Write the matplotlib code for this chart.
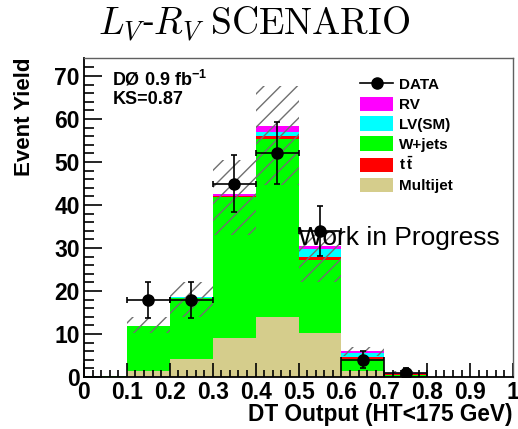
import numpy as np
import matplotlib
matplotlib.use("Agg")
import matplotlib.pyplot as plt
from matplotlib.patches import Patch
from matplotlib.lines import Line2D

plt.rcParams['font.family'] = ['Liberation Sans', 'DejaVu Sans']
plt.rcParams['mathtext.fontset'] = 'custom'
plt.rcParams['mathtext.rm'] = 'Liberation Sans'
plt.rcParams['mathtext.bf'] = 'Liberation Sans:bold'
plt.rcParams['mathtext.it'] = 'Liberation Sans:italic'
plt.rcParams['hatch.linewidth'] = 1.0

# DT output bins
bin_edges = [0.0, 0.1, 0.2, 0.3, 0.4, 0.5, 0.6, 0.7, 0.8, 0.9, 1.0]

# stacked predictions, bottom to top
multijet = [0.0, 1.4, 4.2, 9.0, 13.9, 10.2, 1.5, 0.0, 0.0, 0.0]
wjets    = [0.3, 10.5, 14.1, 32.8, 41.4, 17.0, 2.8, 0.4, 0.0, 0.0]
ttbar    = [0.0, 0.0, 0.0, 0.2, 0.7, 0.8, 0.3, 0.2, 0.0, 0.0]
lv_sm    = [0.0, 0.0, 0.2, 0.1, 1.0, 1.7, 0.9, 0.2, 0.0, 0.0]
rv       = [0.0, 0.0, 0.0, 0.4, 1.4, 0.8, 0.6, 0.2, 0.0, 0.0]

# uncertainty band on the prediction
band_low  = [0.0, 10.2, 14.0, 33.0, 44.7, 22.2, 4.8, 0.8, 0.0, 0.0]
band_high = [0.0, 14.0, 22.2, 50.5, 67.7, 34.2, 7.0, 1.4, 0.0, 0.0]

# data points
data_x   = [0.15, 0.25, 0.35, 0.45, 0.55, 0.65, 0.75]
data_y   = [18, 18, 45, 52, 34, 4, 1]
data_err = [4.2, 4.2, 6.7, 7.2, 5.8, 2.0, 1.0]

x_ticks = [0, 0.1, 0.2, 0.3, 0.4, 0.5, 0.6, 0.7, 0.8, 0.9, 1]
x_tick_labels = ['0', '0.1', '0.2', '0.3', '0.4', '0.5', '0.6', '0.7', '0.8', '0.9', '1']
y_ticks = [0, 10, 20, 30, 40, 50, 60, 70]

# stack order (bottom first)
components = [
    ('Multijet', multijet, '#d5cd8c'),
    ('W+jets', wjets, '#00ff00'),
    (r'$\mathbf{t\,\bar{t}}$', ttbar, '#ff0000'),
    ('LV(SM)', lv_sm, '#00ffff'),
    ('RV', rv, '#ff00ff'),
]
# legend order (top first)
legend_order = ['RV', 'LV(SM)', 'W+jets', r'$\mathbf{t\,\bar{t}}$', 'Multijet']


def draw_stack(ax):
    left = np.array(bin_edges[:-1])
    bottom = np.zeros(len(left))
    for name, values, color in components:
        values = np.array(values)
        ax.bar(left, values, width=0.1, bottom=bottom, align='edge',
               color=color, linewidth=0)
        bottom = bottom + values
    # hatched error band
    lo = np.array(band_low)
    hi = np.array(band_high)
    ax.bar(left, hi - lo, width=0.1, bottom=lo, align='edge', fill=False,
           hatch='//', edgecolor='#707070', linewidth=0)


def draw_data(ax):
    ax.errorbar(data_x, data_y, xerr=0.05, yerr=data_err, fmt='o',
                color='black', ms=8, elinewidth=1.2, capsize=2.2,
                capthick=1.2, zorder=5)


def style_axes(ax):
    ax.set_xlim(0, 1)
    ax.set_ylim(0, 74.2)
    ax.set_xticks(x_ticks)
    ax.set_xticklabels(x_tick_labels)
    ax.set_yticks(y_ticks)
    ax.set_xticks(np.arange(0, 1.0001, 0.02), minor=True)
    ax.set_yticks(np.arange(0, 74, 2), minor=True)
    ax.tick_params(which='major', direction='in', length=10, width=1.2,
                   labelsize=16.5, pad=3)
    ax.tick_params(axis='y', which='major', length=13)
    ax.tick_params(which='minor', direction='in', length=5, width=1.2)
    ax.tick_params(axis='y', which='minor', length=7)
    for lab in ax.get_xticklabels() + ax.get_yticklabels():
        lab.set_fontweight('bold')
    for side in ['left', 'bottom']:
        ax.spines[side].set_color('black')
        ax.spines[side].set_linewidth(1.3)
    for side in ['top', 'right']:
        ax.spines[side].set_color('#606060')
        ax.spines[side].set_linewidth(1.0)


def draw_legend(ax):
    colors = {name: color for name, values, color in components}
    handles = [Line2D([], [], color='black', marker='o', ms=8, lw=1.2)]
    labels = ['DATA']
    for name in legend_order:
        handles.append(Patch(facecolor=colors[name], edgecolor='none'))
        labels.append(name)
    ax.legend(handles, labels, loc='upper left', bbox_to_anchor=(0.625, 0.965),
              frameon=False, borderpad=0, handlelength=2.2, handleheight=1.1,
              labelspacing=0.28, handletextpad=0.35,
              prop={'family': 'Liberation Sans', 'weight': 'bold', 'size': 11})


if __name__ == "__main__":
    fig = plt.figure(figsize=(5.18, 4.29), dpi=100)
    ax = fig.add_axes([84 / 518, 52 / 429, 429 / 518, 319 / 429])

    draw_stack(ax)
    draw_data(ax)
    style_axes(ax)
    draw_legend(ax)

    ax.text(0.066, 0.915, r'DØ 0.9 fb$^{\mathbf{-1}}$', transform=ax.transAxes,
            fontsize=13, fontweight='bold', va='baseline')
    ax.text(0.066, 0.855, 'KS=0.87', transform=ax.transAxes,
            fontsize=13, fontweight='bold', va='baseline')
    ax.text(0.499, 0.414, 'Work in Progress', transform=ax.transAxes,
            fontsize=19, va='baseline', zorder=6)

    fig.text(254 / 518, 1 - 24 / 429, r'$L_V$-$R_V$ $\mathrm{SCENARIO}$',
             fontsize=27, ha='center', va='center', math_fontfamily='cm')
    fig.text(24.5 / 518, 1 - 57 / 429, 'Event Yield', rotation=90,
             fontsize=16, fontweight='bold', ha='center', va='top')
    fig.text(513 / 518, 3 / 429, 'DT Output (HT<175 GeV)',
             fontsize=16.3, fontweight='bold', ha='right', va='bottom')

    fig.savefig('out.png', dpi=100)
